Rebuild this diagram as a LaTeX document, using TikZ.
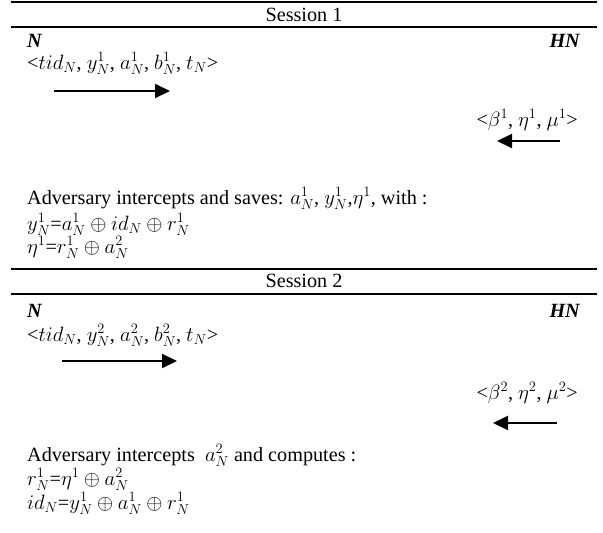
\documentclass[tikz,border=0pt]{standalone}
\usepackage{amsmath, amssymb}
\usepackage{fontspec}
\setmainfont{Liberation Serif}
\usepackage{tikz}
\usetikzlibrary{arrows.meta}

\begin{document}
\begin{tikzpicture}[x=1pt, y=-1pt,
  font=\fontsize{20.2}{24}\selectfont,
  lft/.style={inner sep=0, anchor=west, text height=13pt, text depth=5pt},
  rgt/.style={inner sep=0, anchor=east, text height=13pt, text depth=5pt},
  party/.style={inner sep=0, font=\fontsize{20.2}{24}\selectfont\bfseries\itshape},
  rule/.style={line width=2pt},
  arr/.style={-{Triangle[length=15pt,width=14pt]}, line width=2pt}
]
  \useasboundingbox (0,0) rectangle (603,533);

  \coordinate (t1l) at (11,2);   \coordinate (t1r) at (597,2);
  \coordinate (b1l) at (11,27);  \coordinate (b1r) at (597,27);
  \coordinate (t2l) at (11,269); \coordinate (t2r) at (597,269);
  \coordinate (b2l) at (11,294); \coordinate (b2r) at (597,294);
  \draw[rule] (t1l) -- (t1r);
  \draw[rule] (b1l) -- (b1r);
  \draw[rule] (t2l) -- (t2r);
  \draw[rule] (b2l) -- (b2r);

  \node[inner sep=0] (ses1) at (304,15)  {Session 1};
  \node[inner sep=0] (ses2) at (304,281) {Session 2};

  \node[party, anchor=west] (n1)  at (27,41)  {N};
  \node[party, anchor=east] (hn1) at (580,41) {HN};
  \node[lft] (msg1) at (27,65)
    {\textless$tid_N$, $y_N^1$, $a_N^1$, $b_N^1$, $t_N$\textgreater};
  \coordinate (m1s) at (54,91);  \coordinate (m1e) at (170,91);
  \draw[arr] (m1s) -- (m1e);
  \node[rgt] (ret1) at (578,122) {\textless$\beta^1$, $\eta^1$, $\mu^1$\textgreater};
  \coordinate (r1s) at (560,141); \coordinate (r1e) at (497,141);
  \draw[arr] (r1s) -- (r1e);
  \node[lft] (adv1) at (27,200)
    {Adversary intercepts and saves: $a_N^1$, $y_N^1$,$\eta^1$, with :};
  \node[lft] (eq11) at (27,226) {$y_N^1$=$a_N^1 \oplus id_N \oplus r_N^1$};
  \node[lft] (eq12) at (27,249) {$\eta^1$=$r_N^1 \oplus a_N^2$};

  \node[party, anchor=west] (n2)  at (27,311)  {N};
  \node[party, anchor=east] (hn2) at (580,311) {HN};
  \node[lft] (msg2) at (27,337)
    {\textless$tid_N$, $y_N^2$, $a_N^2$, $b_N^2$, $t_N$\textgreater};
  \coordinate (m2s) at (62,361);  \coordinate (m2e) at (177,361);
  \draw[arr] (m2s) -- (m2e);
  \node[rgt] (ret2) at (578,395) {\textless$\beta^2$, $\eta^2$, $\mu^2$\textgreater};
  \coordinate (r2s) at (557,423); \coordinate (r2e) at (493,423);
  \draw[arr] (r2s) -- (r2e);
  \node[lft] (adv2) at (27,457)
    {Adversary intercepts\ \ $a_N^2$ and computes :};
  \node[lft] (eq21) at (27,481) {$r_N^1$=$\eta^1 \oplus a_N^2$};
  \node[lft] (eq22) at (27,505) {$id_N$=$y_N^1 \oplus a_N^1 \oplus r_N^1$};
\end{tikzpicture}
\end{document}
